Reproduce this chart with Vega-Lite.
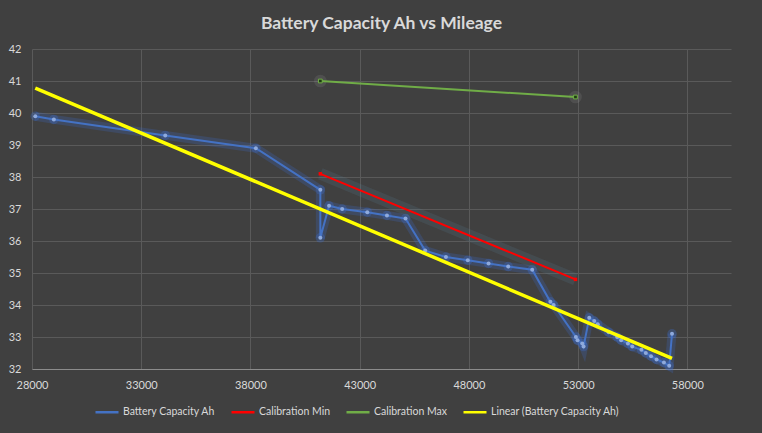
{
  "$schema": "https://vega.github.io/schema/vega-lite/v6.json",
  "width": 699,
  "height": 320,
  "autosize": {"type": "none"},
  "padding": {"left": 32, "top": 49, "right": 31, "bottom": 64},
  "background": "#404040",
  "title": {
    "text": "Battery Capacity Ah vs Mileage",
    "frame": "group",
    "anchor": "middle",
    "offset": 11,
    "font": "Lato",
    "fontSize": 17.5,
    "fontWeight": "bold",
    "color": "#D9D9D9"
  },
  "config": {
    "view": {"stroke": null},
    "font": "Lato",
    "axis": {
      "labelFont": "Lato",
      "labelFontSize": 11,
      "labelColor": "#D9D9D9",
      "labelFlush": false,
      "gridColor": "#5A5A5A",
      "gridWidth": 1,
      "ticks": false,
      "title": null
    },
    "legend": {
      "labelFont": "Lato",
      "labelFontSize": 10.5,
      "labelColor": "#D9D9D9"
    }
  },
  "data": {
    "values": [
      {"series": "Battery Capacity Ah", "mileage": 28150, "ah": 39.9},
      {"series": "Battery Capacity Ah", "mileage": 29000, "ah": 39.8},
      {"series": "Battery Capacity Ah", "mileage": 34100, "ah": 39.3},
      {"series": "Battery Capacity Ah", "mileage": 38250, "ah": 38.9},
      {"series": "Battery Capacity Ah", "mileage": 41200, "ah": 37.6},
      {"series": "Battery Capacity Ah", "mileage": 41200, "ah": 36.1},
      {"series": "Battery Capacity Ah", "mileage": 41600, "ah": 37.1},
      {"series": "Battery Capacity Ah", "mileage": 42200, "ah": 37.0},
      {"series": "Battery Capacity Ah", "mileage": 43350, "ah": 36.9},
      {"series": "Battery Capacity Ah", "mileage": 44250, "ah": 36.8},
      {"series": "Battery Capacity Ah", "mileage": 45100, "ah": 36.7},
      {"series": "Battery Capacity Ah", "mileage": 46000, "ah": 35.7},
      {"series": "Battery Capacity Ah", "mileage": 46950, "ah": 35.5},
      {"series": "Battery Capacity Ah", "mileage": 47950, "ah": 35.4},
      {"series": "Battery Capacity Ah", "mileage": 48900, "ah": 35.3},
      {"series": "Battery Capacity Ah", "mileage": 49800, "ah": 35.2},
      {"series": "Battery Capacity Ah", "mileage": 50900, "ah": 35.1},
      {"series": "Battery Capacity Ah", "mileage": 51730, "ah": 34.1},
      {"series": "Battery Capacity Ah", "mileage": 51880, "ah": 34.0},
      {"series": "Battery Capacity Ah", "mileage": 52900, "ah": 33.0},
      {"series": "Battery Capacity Ah", "mileage": 52975, "ah": 32.9},
      {"series": "Battery Capacity Ah", "mileage": 53190, "ah": 32.8},
      {"series": "Battery Capacity Ah", "mileage": 53250, "ah": 32.7},
      {"series": "Battery Capacity Ah", "mileage": 53510, "ah": 33.6},
      {"series": "Battery Capacity Ah", "mileage": 53740, "ah": 33.5},
      {"series": "Battery Capacity Ah", "mileage": 53900, "ah": 33.4},
      {"series": "Battery Capacity Ah", "mileage": 54400, "ah": 33.15},
      {"series": "Battery Capacity Ah", "mileage": 54790, "ah": 33.0},
      {"series": "Battery Capacity Ah", "mileage": 54970, "ah": 32.9},
      {"series": "Battery Capacity Ah", "mileage": 55280, "ah": 32.8},
      {"series": "Battery Capacity Ah", "mileage": 55480, "ah": 32.7},
      {"series": "Battery Capacity Ah", "mileage": 55900, "ah": 32.6},
      {"series": "Battery Capacity Ah", "mileage": 56100, "ah": 32.5},
      {"series": "Battery Capacity Ah", "mileage": 56340, "ah": 32.4},
      {"series": "Battery Capacity Ah", "mileage": 56590, "ah": 32.3},
      {"series": "Battery Capacity Ah", "mileage": 56930, "ah": 32.2},
      {"series": "Battery Capacity Ah", "mileage": 57170, "ah": 32.1},
      {"series": "Battery Capacity Ah", "mileage": 57300, "ah": 33.1},
      {"series": "Calibration Min", "mileage": 41200, "ah": 38.1},
      {"series": "Calibration Min", "mileage": 52880, "ah": 34.8},
      {"series": "Calibration Max", "mileage": 41200, "ah": 41.0},
      {"series": "Calibration Max", "mileage": 52880, "ah": 40.5},
      {"series": "Linear (Battery Capacity Ah)", "mileage": 28150, "ah": 40.78},
      {"series": "Linear (Battery Capacity Ah)", "mileage": 57300, "ah": 32.33}
    ]
  },
  "encoding": {
    "x": {
      "field": "mileage",
      "type": "quantitative",
      "scale": {"domain": [28000, 60000], "nice": false, "zero": false},
      "axis": {
        "values": [28000, 33000, 38000, 43000, 48000, 53000, 58000],
        "format": "d",
        "grid": true,
        "domain": true,
        "domainColor": "#8C8C8C",
        "labelPadding": 10
      }
    },
    "y": {
      "field": "ah",
      "type": "quantitative",
      "scale": {"domain": [32, 42], "nice": false, "zero": false},
      "axis": {
        "values": [32, 33, 34, 35, 36, 37, 38, 39, 40, 41, 42],
        "grid": true,
        "domain": false,
        "labelPadding": 11
      }
    },
    "order": {"value": null}
  },
  "layer": [
    {
      "transform": [{"filter": "datum.series === 'Battery Capacity Ah'"}],
      "mark": {"type": "line", "color": "#3A6FD8", "strokeWidth": 9, "opacity": 0.22}
    },
    {
      "transform": [{"filter": "datum.series === 'Battery Capacity Ah'"}],
      "mark": {"type": "circle", "color": "#3A6FD8", "size": 90, "opacity": 0.3}
    },
    {
      "transform": [{"filter": "datum.series === 'Calibration Min'"}],
      "mark": {"type": "line", "color": "#5B8FA5", "strokeWidth": 12, "opacity": 0.15}
    },
    {
      "transform": [{"filter": "datum.series === 'Calibration Max'"}],
      "mark": {"type": "circle", "color": "#BFBFBF", "size": 160, "opacity": 0.12}
    },
    {
      "transform": [{"filter": "datum.series !== 'Linear (Battery Capacity Ah)'"}],
      "mark": {"type": "line", "strokeWidth": 2},
      "encoding": {
        "color": {
          "field": "series",
          "type": "nominal",
          "scale": {
            "domain": ["Battery Capacity Ah", "Calibration Min", "Calibration Max", "Linear (Battery Capacity Ah)"],
            "range": ["#4472C4", "#FF0000", "#70AD47", "#FFFF00"]
          },
          "legend": {
            "title": null,
            "orient": "none",
            "direction": "horizontal",
            "legendX": 62,
            "legendY": 350,
            "symbolType": "stroke",
            "symbolSize": 529,
            "symbolStrokeWidth": 2.5,
            "labelOffset": 3,
            "columnPadding": 10
          }
        }
      }
    },
    {
      "transform": [{"filter": "datum.series === 'Battery Capacity Ah'"}],
      "mark": {"type": "circle", "color": "#8FAADC", "size": 16, "opacity": 1}
    },
    {
      "transform": [{"filter": "datum.series === 'Calibration Min'"}],
      "mark": {"type": "square", "color": "#FF0000", "size": 12, "opacity": 1}
    },
    {
      "transform": [{"filter": "datum.series === 'Calibration Max'"}],
      "mark": {"type": "square", "filled": true, "color": "#1E3B12", "stroke": "#70AD47", "strokeWidth": 1, "size": 14, "opacity": 1}
    },
    {
      "transform": [{"filter": "datum.series === 'Linear (Battery Capacity Ah)'"}],
      "mark": {"type": "line", "strokeWidth": 3.5},
      "encoding": {
        "color": {"field": "series", "type": "nominal"}
      }
    }
  ]
}
